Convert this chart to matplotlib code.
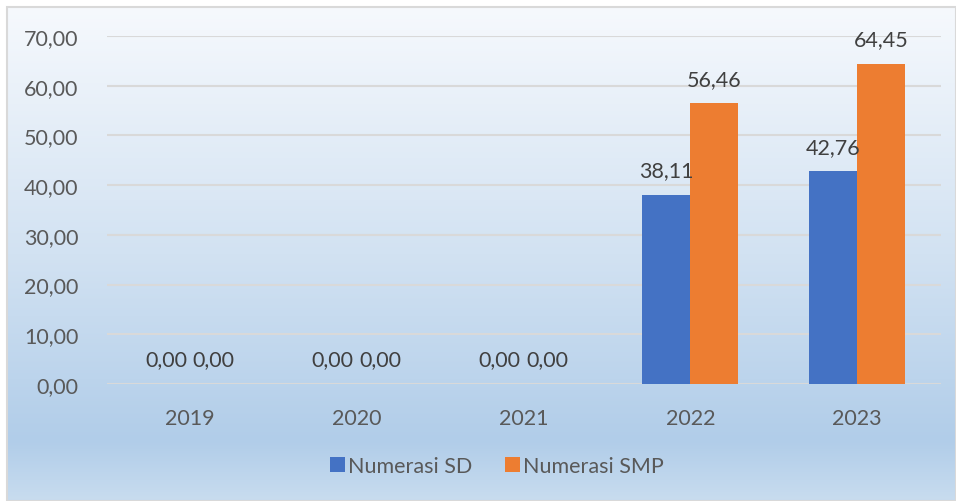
import numpy as np
import matplotlib
matplotlib.use("Agg")
import matplotlib.pyplot as plt
from matplotlib.colors import LinearSegmentedColormap
from matplotlib.patches import Rectangle

years = ["2019", "2020", "2021", "2022", "2023"]
numerasi_sd = [0.00, 0.00, 0.00, 38.11, 42.76]
numerasi_smp = [0.00, 0.00, 0.00, 56.46, 64.45]
series_names = ["Numerasi SD", "Numerasi SMP"]
yticks = [0, 10, 20, 30, 40, 50, 60, 70]

plt.rcParams['font.family'] = ['Lato', 'DejaVu Sans']
TXT = '#595959'

W, H = 956, 502
fig = plt.figure(figsize=(W / 100, H / 100), dpi=100)
fig.patch.set_facecolor('white')

# gradient background
bg = fig.add_axes([7 / W, 0, 1 - 7 / W, 1 - 8 / H])
cmap = LinearSegmentedColormap.from_list(
    'g', [(0, '#f6f9fd'), (0.5, '#d2e2f2'), (0.88, '#b1cde9'), (1.0, '#c8dcef')])
grad = np.linspace(0, 1, 256).reshape(-1, 1)
bg.imshow(grad, aspect='auto', cmap=cmap, extent=[0, 1, 0, 1], origin='upper')
bg.set_xlim(0, 1)
bg.set_ylim(0, 1)
bg.set_axis_off()
bg.add_patch(Rectangle((0, 0), 1, 1, transform=bg.transAxes, fill=False,
                       edgecolor='#d9d9d9', linewidth=1.5, clip_on=False))

# plot area: x from 106.5 to 940.5 px, y from 385 (0) to 37 (70)
x0, x1 = 106.5, 940.5
y0, y1 = 385, 37
ax = fig.add_axes([x0 / W, (H - y0) / H, (x1 - x0) / W, (y0 - y1) / H])
ax.patch.set_alpha(0)
x = np.arange(len(years))
bw = 0.287
b1 = ax.bar(x - bw / 2, numerasi_sd, bw, color='#4472c4', label=series_names[0], zorder=3)
b2 = ax.bar(x + bw / 2, numerasi_smp, bw, color='#ed7d31', label=series_names[1], zorder=3)

fmt = lambda v: f"{v:.2f}".replace('.', ',')
for bars, vals in ((b1, numerasi_sd), (b2, numerasi_smp)):
    for r, v in zip(bars, vals):
        ax.annotate(fmt(v), (r.get_x() + r.get_width() / 2, v),
                    xytext=(0, 10.5), textcoords='offset points',
                    ha='center', va='bottom', fontsize=15.5, color='#404040', zorder=4)

ax.set_xlim(-0.5, len(years) - 0.5)
ax.set_ylim(0, 70)
ax.set_yticks(yticks)
ax.set_yticklabels([fmt(v) for v in yticks])
ax.set_xticks(x)
ax.set_xticklabels(years)
ax.tick_params(axis='both', length=0, labelsize=15.5, colors=TXT)
ax.tick_params(axis='y', pad=20)
ax.tick_params(axis='x', pad=17)
ax.grid(axis='y', color='#d9d9d9', linewidth=1.5, zorder=0)
for s in ax.spines.values():
    s.set_visible(False)

leg = fig.legend(handles=[b1, b2], labels=series_names, loc='center',
                 bbox_to_anchor=(497 / W, (H - 467) / H), ncol=2, frameon=False,
                 fontsize=15.5, handlelength=0.7, handleheight=0.7, handletextpad=0.15,
                 columnspacing=1.5)
for t in leg.get_texts():
    t.set_color(TXT)

fig.savefig('out.png', dpi=100)
